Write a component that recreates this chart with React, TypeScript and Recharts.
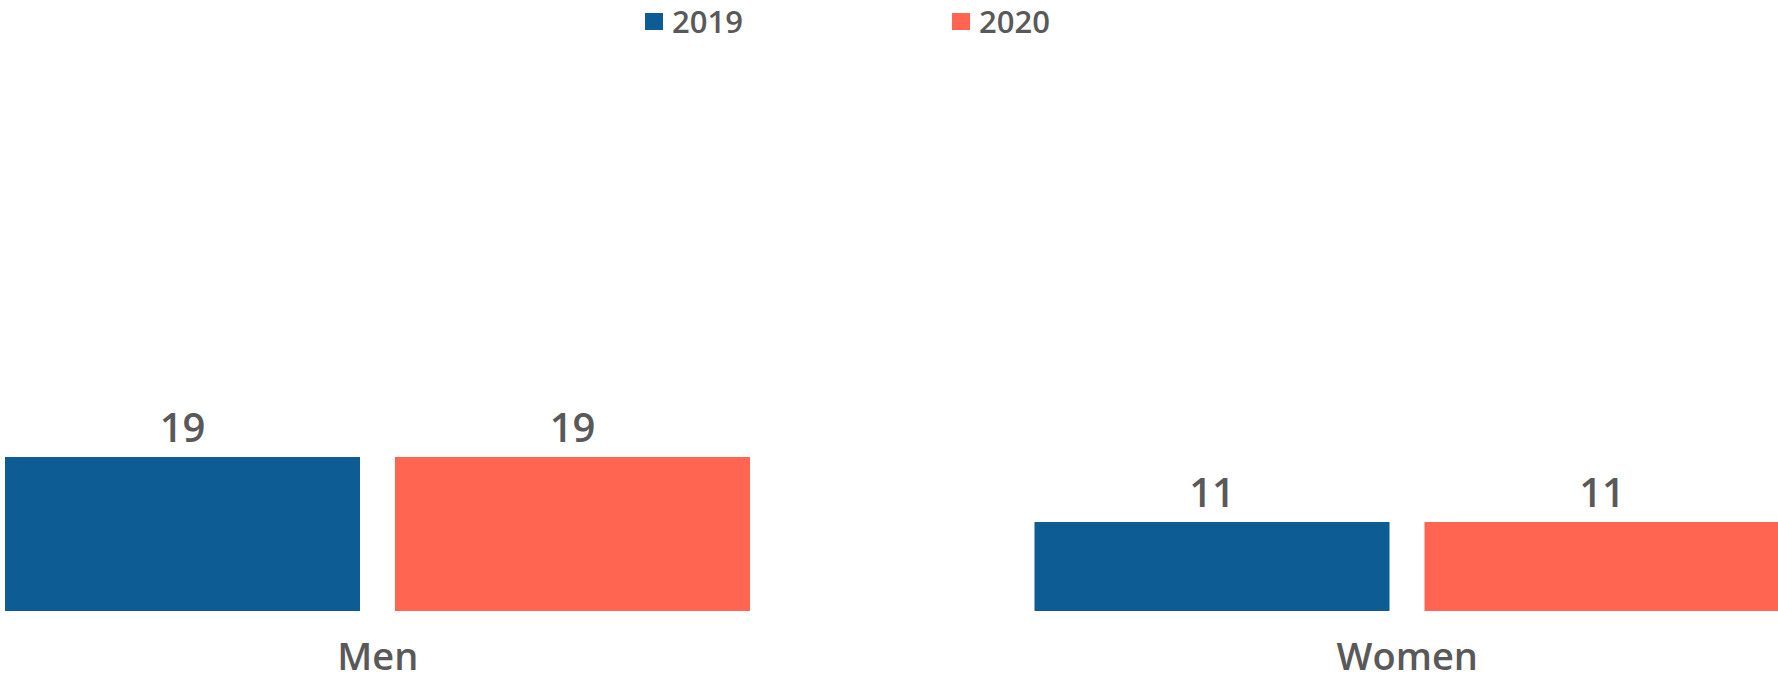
import { Bar, BarChart, LabelList, Legend, XAxis, YAxis } from "recharts";

const categories = ["Men", "Women"];
const values2019 = [19, 11];
const values2020 = [19, 11];
const seriesNames = ["2019", "2020"];

const data = categories.map((name, i) => ({
    name,
    y2019: values2019[i],
    y2020: values2020[i],
}));

const colors = ["#0D5C94", "#FF6550"];
const textColor = "#595959";
const fontFamily = "'Open Sans', sans-serif";

// legend drawn by hand: square + year, items 307px apart
function LegendContent() {
    return (
        <div style={{ display: "flex", fontFamily, height: 43 }}>
            {seriesNames.map((name, i) => (
                <div key={name} style={{ width: 307, display: "flex", alignItems: "flex-start" }}>
                    <span
                        style={{
                            width: 18,
                            height: 17,
                            background: colors[i],
                            marginRight: 9,
                            marginTop: 13,
                            display: "inline-block",
                        }}
                    />
                    <span style={{ fontSize: 31, fontWeight: 600, color: textColor, lineHeight: "normal" }}>{name}</span>
                </div>
            ))}
        </div>
    );
}

export default function App() {
    return (
        <div
            style={{
                position: "fixed",
                left: 0,
                top: 0,
                width: 1778,
                height: 682,
                overflow: "hidden",
                background: "#fff",
            }}
        >
            <div style={{ position: "absolute", left: -137, top: 0 }}>
                <BarChart
                    width={2059}
                    height={682}
                    data={data}
                    margin={{ top: 44, right: 0, bottom: 0, left: 0 }}
                    barCategoryGap={142}
                    barGap={35}
                >
                    <XAxis
                        dataKey="name"
                        axisLine={false}
                        tickLine={false}
                        height={71}
                        tickMargin={26}
                        tick={{ fill: textColor, fontSize: 38, fontWeight: 600, fontFamily }}
                    />
                    <YAxis hide type="number" domain={[0, 70]} allowDataOverflow />
                    {/* middle + center so the legend does not eat into the plot offsets */}
                    <Legend
                        verticalAlign="middle"
                        align="center"
                        content={<LegendContent />}
                        wrapperStyle={{ top: 0, left: 782, width: 700 }}
                    />
                    <Bar dataKey="y2019" name={seriesNames[0]} fill={colors[0]} isAnimationActive={false}>
                        <LabelList
                            dataKey="y2019"
                            position="top"
                            offset={15}
                            fill={textColor}
                            fontSize={40}
                            fontWeight={600}
                            fontFamily={fontFamily}
                        />
                    </Bar>
                    <Bar dataKey="y2020" name={seriesNames[1]} fill={colors[1]} isAnimationActive={false}>
                        <LabelList
                            dataKey="y2020"
                            position="top"
                            offset={15}
                            fill={textColor}
                            fontSize={40}
                            fontWeight={600}
                            fontFamily={fontFamily}
                        />
                    </Bar>
                </BarChart>
            </div>
        </div>
    );
}
